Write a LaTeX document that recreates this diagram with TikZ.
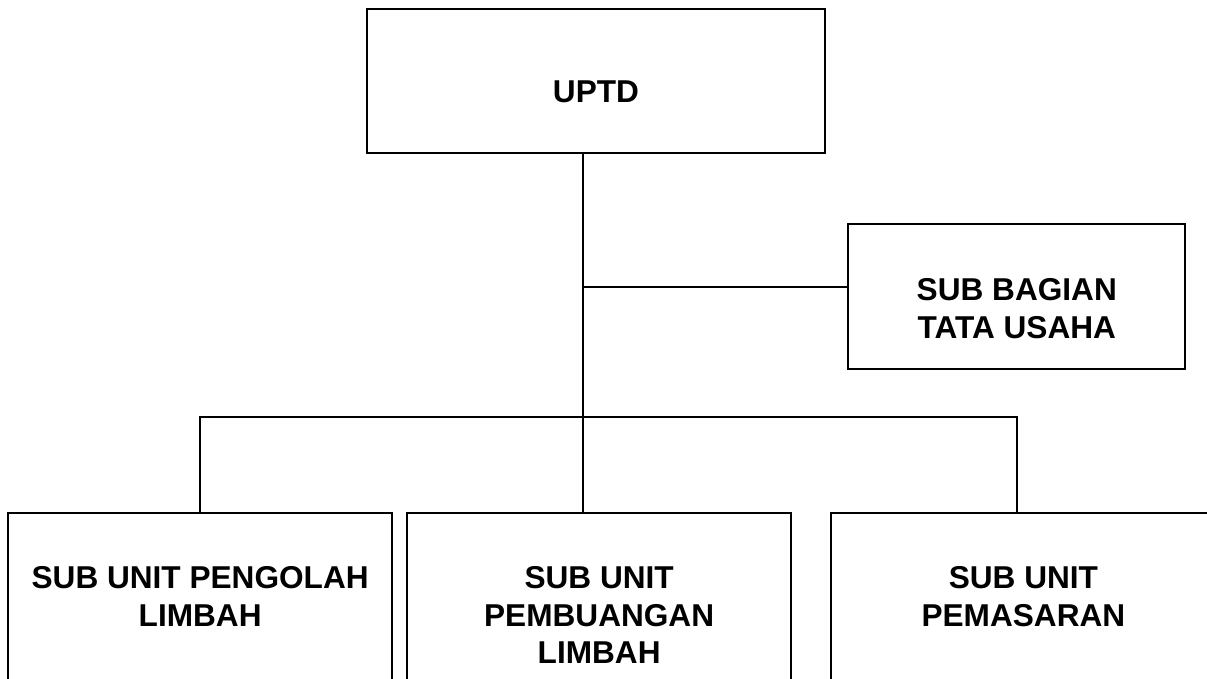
\documentclass[tikz,border=0pt]{standalone}
\usepackage{fontspec}
\setmainfont{Liberation Sans}
\tikzset{
  box/.style={draw, line width=1.9pt, rectangle, inner sep=0pt},
  lbl/.style={font=\bfseries\fontsize{31.6}{37.5}\selectfont, align=center, inner sep=0pt, anchor=north},
  conn/.style={line width=1.6pt}
}
\begin{document}
\begin{tikzpicture}[x=1pt,y=-1pt]
\useasboundingbox (0,0) rectangle (1207,678);
\fill[white] (0,0) rectangle (1207,678);
\begin{scope}
\clip (0,0) rectangle (1207,678);
% boxes
\node[box, minimum width=457.4pt, minimum height=144pt] (uptd) at (596,80.7) {};
\node[box, minimum width=337pt, minimum height=144.7pt] (bagian) at (1016.8,296.7) {};
\node[box, minimum width=384.3pt, minimum height=200pt] (left) at (200.15,613) {};
\node[box, minimum width=384.3pt, minimum height=200pt] (mid) at (599.15,613.3) {};
\node[box, minimum width=384.3pt, minimum height=200pt] (right) at (1023.4,612.7) {};
% labels
\node[lbl] (tuptd) at (596,80.4) {UPTD};
\node[lbl] (tbagian) at (1016.8,278.7) {SUB BAGIAN\\TATA USAHA};
\node[lbl] (tleft) at (200.15,566.7) {SUB UNIT PENGOLAH\\LIMBAH};
\node[lbl] (tmid) at (599.15,566.7) {SUB UNIT\\PEMBUANGAN\\LIMBAH};
\node[lbl] (tright) at (1023.4,566.7) {SUB UNIT\\PEMASARAN};
% connectors
\coordinate (j1) at (583,287);
\coordinate (j2) at (583,417);
\coordinate (rv) at (1016.7,417);
\draw[conn] (j1 |- uptd.south) -- (j1 |- mid.north);
\draw[conn] (j1) -- (j1 -| bagian.west);
\draw[conn] (left.north) |- (rv) -- (rv |- right.north);
\end{scope}
\end{tikzpicture}
\end{document}
